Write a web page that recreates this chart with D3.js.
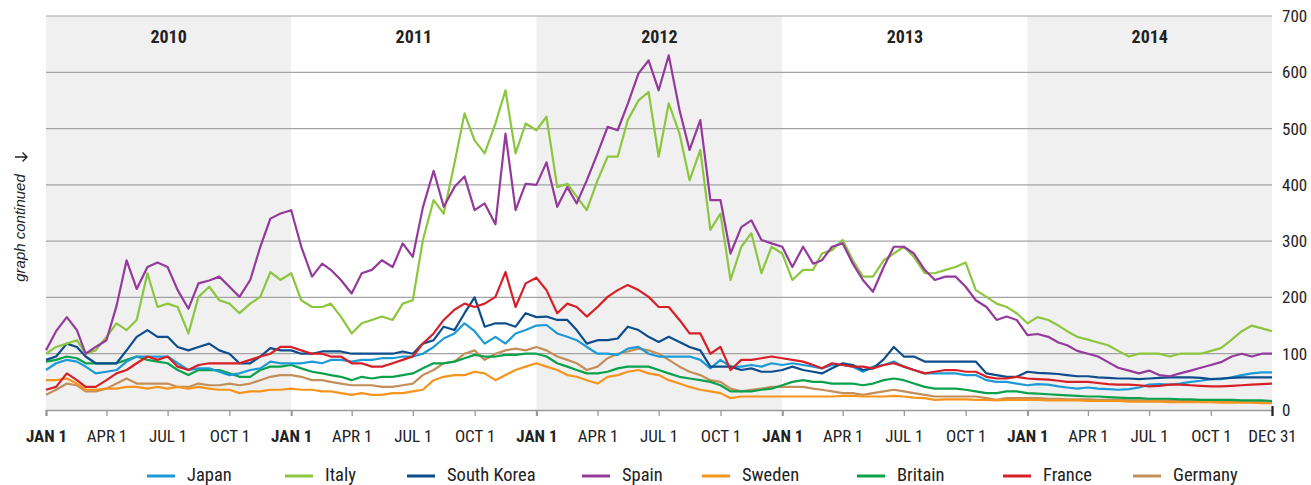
<!DOCTYPE html>
<html>
<head>
<meta charset="utf-8">
<script src="https://cdnjs.cloudflare.com/ajax/libs/d3/7.8.5/d3.min.js"></script>
<style>
  body { margin: 0; background: #fff; }
  text { font-family: "Liberation Sans Narrow", "Roboto Condensed", Roboto, sans-serif; fill: #222; }
</style>
</head>
<body>
<svg width="1311" height="485"></svg>
<script>
// **** Data ****

var years = [2010, 2011, 2012, 2013, 2014];
var quarterLabels = ["JAN 1", "APR 1", "JUL 1", "OCT 1"];
var yTicks = [0, 100, 200, 300, 400, 500, 600, 700];
var countries = ["Japan", "Italy", "South Korea", "Spain", "Sweden", "Britain", "France", "Germany"];
var colors = ["#1b9ad7", "#8cc63f", "#0d4d8c", "#943a9b", "#f7941d", "#0aa14b", "#d71f27", "#c48e5a"];

// values sampled on the 1st and 16th of each month, last point Dec 31 2014
var japan = [
    71, 83, 89, 86, 77, 65, 68, 71, 86, 95, 95, 95, 95, 83, 71, 74, 74, 68, 62, 65, 71, 74, 86, 83,
    83, 83, 86, 83, 89, 89, 86, 89, 89, 92, 92, 95, 95, 100, 112, 127, 136, 154, 140, 118, 130, 118, 136, 142,
    150, 151, 136, 130, 124, 112, 100, 100, 98, 109, 112, 100, 95, 95, 95, 95, 89, 74, 89, 77, 77, 80, 77, 83,
    80, 83, 80, 77, 74, 80, 80, 77, 68, 77, 80, 86, 77, 71, 65, 65, 65, 65, 62, 62, 53, 50, 50, 47,
    44, 46, 45, 42, 40, 38, 40, 38, 37, 36, 37, 40, 45, 46, 45, 47, 50, 52, 55, 55, 58, 62, 65, 67, 67
];
var italy = [
    100, 112, 118, 124, 100, 106, 130, 154, 142, 160, 243, 183, 189, 183, 136, 201, 219, 195, 189, 172, 189, 201, 245, 231,
    243, 195, 183, 183, 189, 166, 136, 154, 160, 166, 160, 189, 195, 302, 373, 349, 438, 527, 479, 456, 509, 568, 456, 509,
    497, 521, 396, 402, 379, 355, 408, 450, 450, 515, 550, 565, 450, 545, 491, 408, 462, 320, 349, 231, 290, 314, 243, 290,
    278, 231, 249, 249, 278, 284, 302, 266, 237, 237, 266, 278, 290, 272, 243, 243, 249, 254, 262, 213, 201, 189, 183, 172,
    154, 165, 160, 150, 140, 130, 125, 120, 115, 105, 95, 100, 100, 100, 95, 100, 100, 100, 105, 110, 125, 140, 150, 145, 140
];
var southKorea = [
    89, 95, 118, 112, 95, 83, 83, 83, 106, 130, 142, 130, 130, 112, 106, 112, 118, 106, 100, 83, 83, 95, 110, 106,
    106, 100, 100, 104, 104, 104, 100, 100, 100, 100, 100, 104, 100, 118, 124, 148, 142, 172, 200, 148, 154, 154, 148, 172,
    165, 166, 160, 160, 142, 118, 124, 124, 127, 148, 142, 130, 121, 130, 121, 112, 106, 77, 77, 77, 71, 74, 68, 68,
    71, 77, 71, 68, 65, 74, 83, 80, 71, 74, 90, 112, 95, 95, 86, 86, 86, 86, 86, 86, 65, 62, 59, 59,
    68, 66, 65, 64, 62, 60, 60, 58, 57, 56, 56, 55, 56, 57, 58, 58, 58, 57, 55, 56, 57, 58, 58, 58, 58
];
var spain = [
    106, 140, 165, 142, 100, 112, 124, 185, 266, 215, 254, 262, 254, 213, 180, 225, 230, 237, 219, 201, 231, 290, 340, 349,
    355, 290, 237, 260, 249, 231, 207, 243, 249, 266, 254, 296, 272, 360, 425, 361, 396, 415, 355, 367, 330, 491, 355, 402,
    400, 440, 361, 396, 367, 408, 456, 503, 497, 544, 598, 621, 568, 630, 533, 462, 515, 373, 373, 278, 325, 337, 302, 296,
    290, 254, 290, 260, 266, 290, 296, 260, 231, 210, 254, 290, 290, 278, 249, 231, 237, 237, 219, 195, 183, 160, 166, 160,
    133, 135, 130, 120, 115, 105, 100, 95, 85, 75, 70, 65, 70, 62, 60, 65, 70, 75, 80, 85, 95, 100, 95, 100, 100
];
var sweden = [
    53, 53, 56, 47, 36, 36, 38, 38, 41, 41, 38, 41, 38, 41, 38, 41, 38, 36, 36, 30, 33, 33, 36, 36,
    38, 36, 36, 33, 33, 30, 27, 30, 27, 27, 30, 30, 33, 36, 53, 59, 62, 62, 68, 65, 53, 62, 71, 77,
    83, 77, 71, 62, 59, 53, 47, 59, 62, 68, 71, 65, 62, 53, 47, 41, 36, 33, 30, 21, 24, 24, 24, 24,
    24, 24, 24, 24, 24, 24, 25, 25, 24, 24, 24, 25, 24, 22, 21, 18, 19, 19, 19, 18, 18, 17, 18, 18,
    18, 18, 17, 17, 17, 17, 16, 16, 16, 16, 15, 15, 15, 15, 14, 14, 14, 14, 14, 13, 13, 13, 13, 12, 12
];
var britain = [
    86, 89, 95, 92, 83, 83, 83, 83, 89, 95, 89, 86, 83, 71, 62, 71, 71, 71, 65, 59, 59, 71, 77, 77,
    80, 74, 68, 65, 62, 59, 53, 59, 56, 59, 59, 62, 65, 74, 83, 83, 86, 92, 98, 95, 95, 98, 98, 100,
    100, 95, 83, 77, 71, 65, 65, 68, 74, 77, 77, 77, 71, 65, 59, 56, 53, 50, 44, 33, 33, 33, 36, 38,
    44, 50, 53, 50, 50, 47, 47, 47, 44, 47, 53, 56, 53, 47, 41, 38, 38, 38, 36, 33, 30, 30, 33, 33,
    30, 29, 28, 27, 26, 25, 24, 24, 23, 22, 21, 21, 20, 20, 20, 19, 19, 18, 18, 18, 18, 17, 17, 17, 16
];
var france = [
    36, 41, 65, 53, 41, 41, 53, 65, 71, 83, 95, 89, 95, 77, 71, 80, 83, 83, 83, 83, 89, 95, 100, 112,
    112, 106, 100, 100, 95, 95, 83, 83, 77, 77, 83, 89, 95, 118, 136, 160, 178, 189, 183, 189, 201, 245, 183, 225,
    235, 213, 172, 189, 183, 166, 183, 201, 213, 222, 213, 201, 183, 183, 160, 136, 136, 100, 112, 71, 89, 89, 92, 95,
    92, 89, 86, 80, 74, 83, 80, 77, 77, 74, 80, 83, 77, 71, 65, 68, 71, 71, 68, 68, 59, 56, 56, 59,
    56, 55, 54, 52, 50, 50, 50, 48, 46, 45, 45, 44, 42, 43, 45, 45, 44, 43, 42, 42, 43, 44, 45, 46, 47
];
var germany = [
    27, 36, 47, 44, 33, 33, 38, 47, 56, 47, 47, 47, 47, 41, 41, 47, 44, 44, 47, 44, 47, 53, 59, 62,
    62, 59, 53, 53, 50, 47, 44, 44, 44, 41, 41, 44, 47, 62, 71, 83, 86, 100, 106, 89, 100, 106, 109, 106,
    112, 106, 95, 89, 83, 71, 77, 92, 100, 104, 109, 106, 100, 89, 77, 68, 62, 53, 50, 38, 33, 36, 38, 41,
    41, 41, 41, 38, 36, 33, 30, 30, 27, 30, 33, 36, 33, 30, 27, 24, 24, 24, 24, 24, 21, 18, 21, 21,
    21, 21, 20, 20, 19, 19, 19, 18, 18, 18, 17, 17, 17, 17, 17, 16, 16, 16, 16, 16, 16, 16, 16, 15, 15
];

var seriesValues = [japan, italy, southKorea, spain, sweden, britain, france, germany];

// sample dates
var dates = [];
years.forEach(function(yr) {
    for (var m = 0; m < 12; m++) {
        dates.push(new Date(yr, m, 1));
        dates.push(new Date(yr, m, 16));
    }
});
dates.push(new Date(2014, 11, 31));

// **** Scales ****

var plotLeft = 46, plotRight = 1272, plotTop = 16, plotBottom = 410;

var x = d3.scaleTime()
    .domain([new Date(2010, 0, 1), new Date(2014, 11, 31)])
    .range([plotLeft, plotRight]);

var y = d3.scaleLinear()
    .domain([0, 700]).range([plotBottom, plotTop]);

var svg = d3.select('svg');

// year bands
svg.selectAll('.band')
    .data(years)
    .enter().append('rect')
    .attr('class', 'band')
    .attr('x', d => x(new Date(d, 0, 1)))
    .attr('y', plotTop)
    .attr('width', d => Math.min(x(new Date(d + 1, 0, 1)), plotRight) - x(new Date(d, 0, 1)))
    .attr('height', plotBottom - plotTop)
    .attr('fill', (d, i) => i % 2 === 0 ? '#f0f0f0' : '#fff');

svg.selectAll('.year-label')
    .data(years)
    .enter().append('text')
    .attr('class', 'year-label')
    .attr('x', d => (x(new Date(d, 0, 1)) + Math.min(x(new Date(d + 1, 0, 1)), plotRight)) / 2)
    .attr('y', 43)
    .attr('text-anchor', 'middle')
    .style('font-weight', 'bold')
    .style('font-size', '18px')
    .text(d => d);

// grid lines
svg.selectAll('.grid')
    .data(yTicks.slice(1))
    .enter().append('line')
    .attr('class', 'grid')
    .attr('x1', plotLeft).attr('x2', plotRight)
    .attr('y1', d => y(d)).attr('y2', d => y(d))
    .attr('stroke', '#a3a3a3')
    .attr('stroke-width', 1.2);

// right axis labels
var yAxis = svg.append('g')
    .attr('transform', 'translate(' + plotRight + ',0)')
    .call(d3.axisRight(y).tickValues(yTicks).tickSize(0).tickPadding(10));
yAxis.select('.domain').remove();
yAxis.selectAll('text')
    .style('font-size', '17px')
    .style('font-family', '"Liberation Sans Narrow", "Roboto Condensed", Roboto, sans-serif')
    .attr('fill', '#222');

// x axis
var tickDates = [];
years.forEach(function(yr) {
    [0, 3, 6, 9].forEach(function(m) { tickDates.push(new Date(yr, m, 1)); });
});
tickDates.push(new Date(2014, 11, 31));

var xAxis = svg.append('g')
    .attr('transform', 'translate(0,' + plotBottom + ')')
    .call(d3.axisBottom(x)
        .tickValues(tickDates)
        .tickSize(6)
        .tickPadding(14)
        .tickFormat(function(d, i) {
            if (i === tickDates.length - 1) return 'DEC 31';
            return quarterLabels[d.getMonth() / 3];
        }));

xAxis.select('.domain')
    .attr('stroke', '#9a9a9a')
    .attr('stroke-width', 1.5);
xAxis.selectAll('.tick line')
    .attr('stroke', (d, i) => i === tickDates.length - 1 ? '#222' : '#9a9a9a')
    .attr('stroke-width', (d, i) => (d.getMonth() === 0 && d.getDate() === 1) || i === tickDates.length - 1 ? 2.2 : 1.3)
    .attr('y1', (d, i) => i === tickDates.length - 1 ? -4 : 0);
xAxis.selectAll('.tick text')
    .style('font-size', '17px')
    .style('font-family', '"Liberation Sans Narrow", "Roboto Condensed", Roboto, sans-serif')
    .style('font-weight', d => (d.getMonth() === 0 && d.getDate() === 1) ? 'bold' : 'normal')
    .attr('fill', '#222');

// **** Lines ****

var line = d3.line()
    .x((d, i) => x(dates[i]))
    .y(d => y(d));

var drawOrder = [7, 4, 5, 0, 2, 6, 1, 3];
drawOrder.forEach(function(k) {
    svg.append('path')
        .datum(seriesValues[k])
        .attr('class', 'series')
        .attr('fill', 'none')
        .attr('stroke', colors[k])
        .attr('stroke-width', 2.2)
        .attr('stroke-linejoin', 'round')
        .attr('d', line);
});

// side note
svg.append('text')
    .attr('transform', 'translate(25,228) rotate(-90)')
    .attr('text-anchor', 'middle')
    .style('font-family', '"Liberation Sans", Arial, sans-serif')
    .style('font-style', 'italic')
    .style('font-size', '15px')
    .text('graph continued');

// arrow next to the note
svg.append('path')
    .attr('d', 'M15,157H27M22.5,152.5L27,157L22.5,161.5')
    .attr('fill', 'none')
    .attr('stroke', '#222')
    .attr('stroke-width', 1.4);

// **** Legend ****

var legendX = [147, 285, 407, 582, 702, 857, 1003, 1133];
var legend = svg.selectAll('.legend')
    .data(countries)
    .enter().append('g')
    .attr('class', 'legend')
    .attr('transform', (d, i) => 'translate(' + legendX[i] + ',476)');

legend.append('line')
    .attr('x1', 0).attr('x2', 28)
    .attr('stroke', (d, i) => colors[i])
    .attr('stroke-width', 3);

legend.append('text')
    .attr('x', 40)
    .attr('y', 4.5)
    .style('font-size', '18.5px')
    .text(d => d);
</script>
</body>
</html>
